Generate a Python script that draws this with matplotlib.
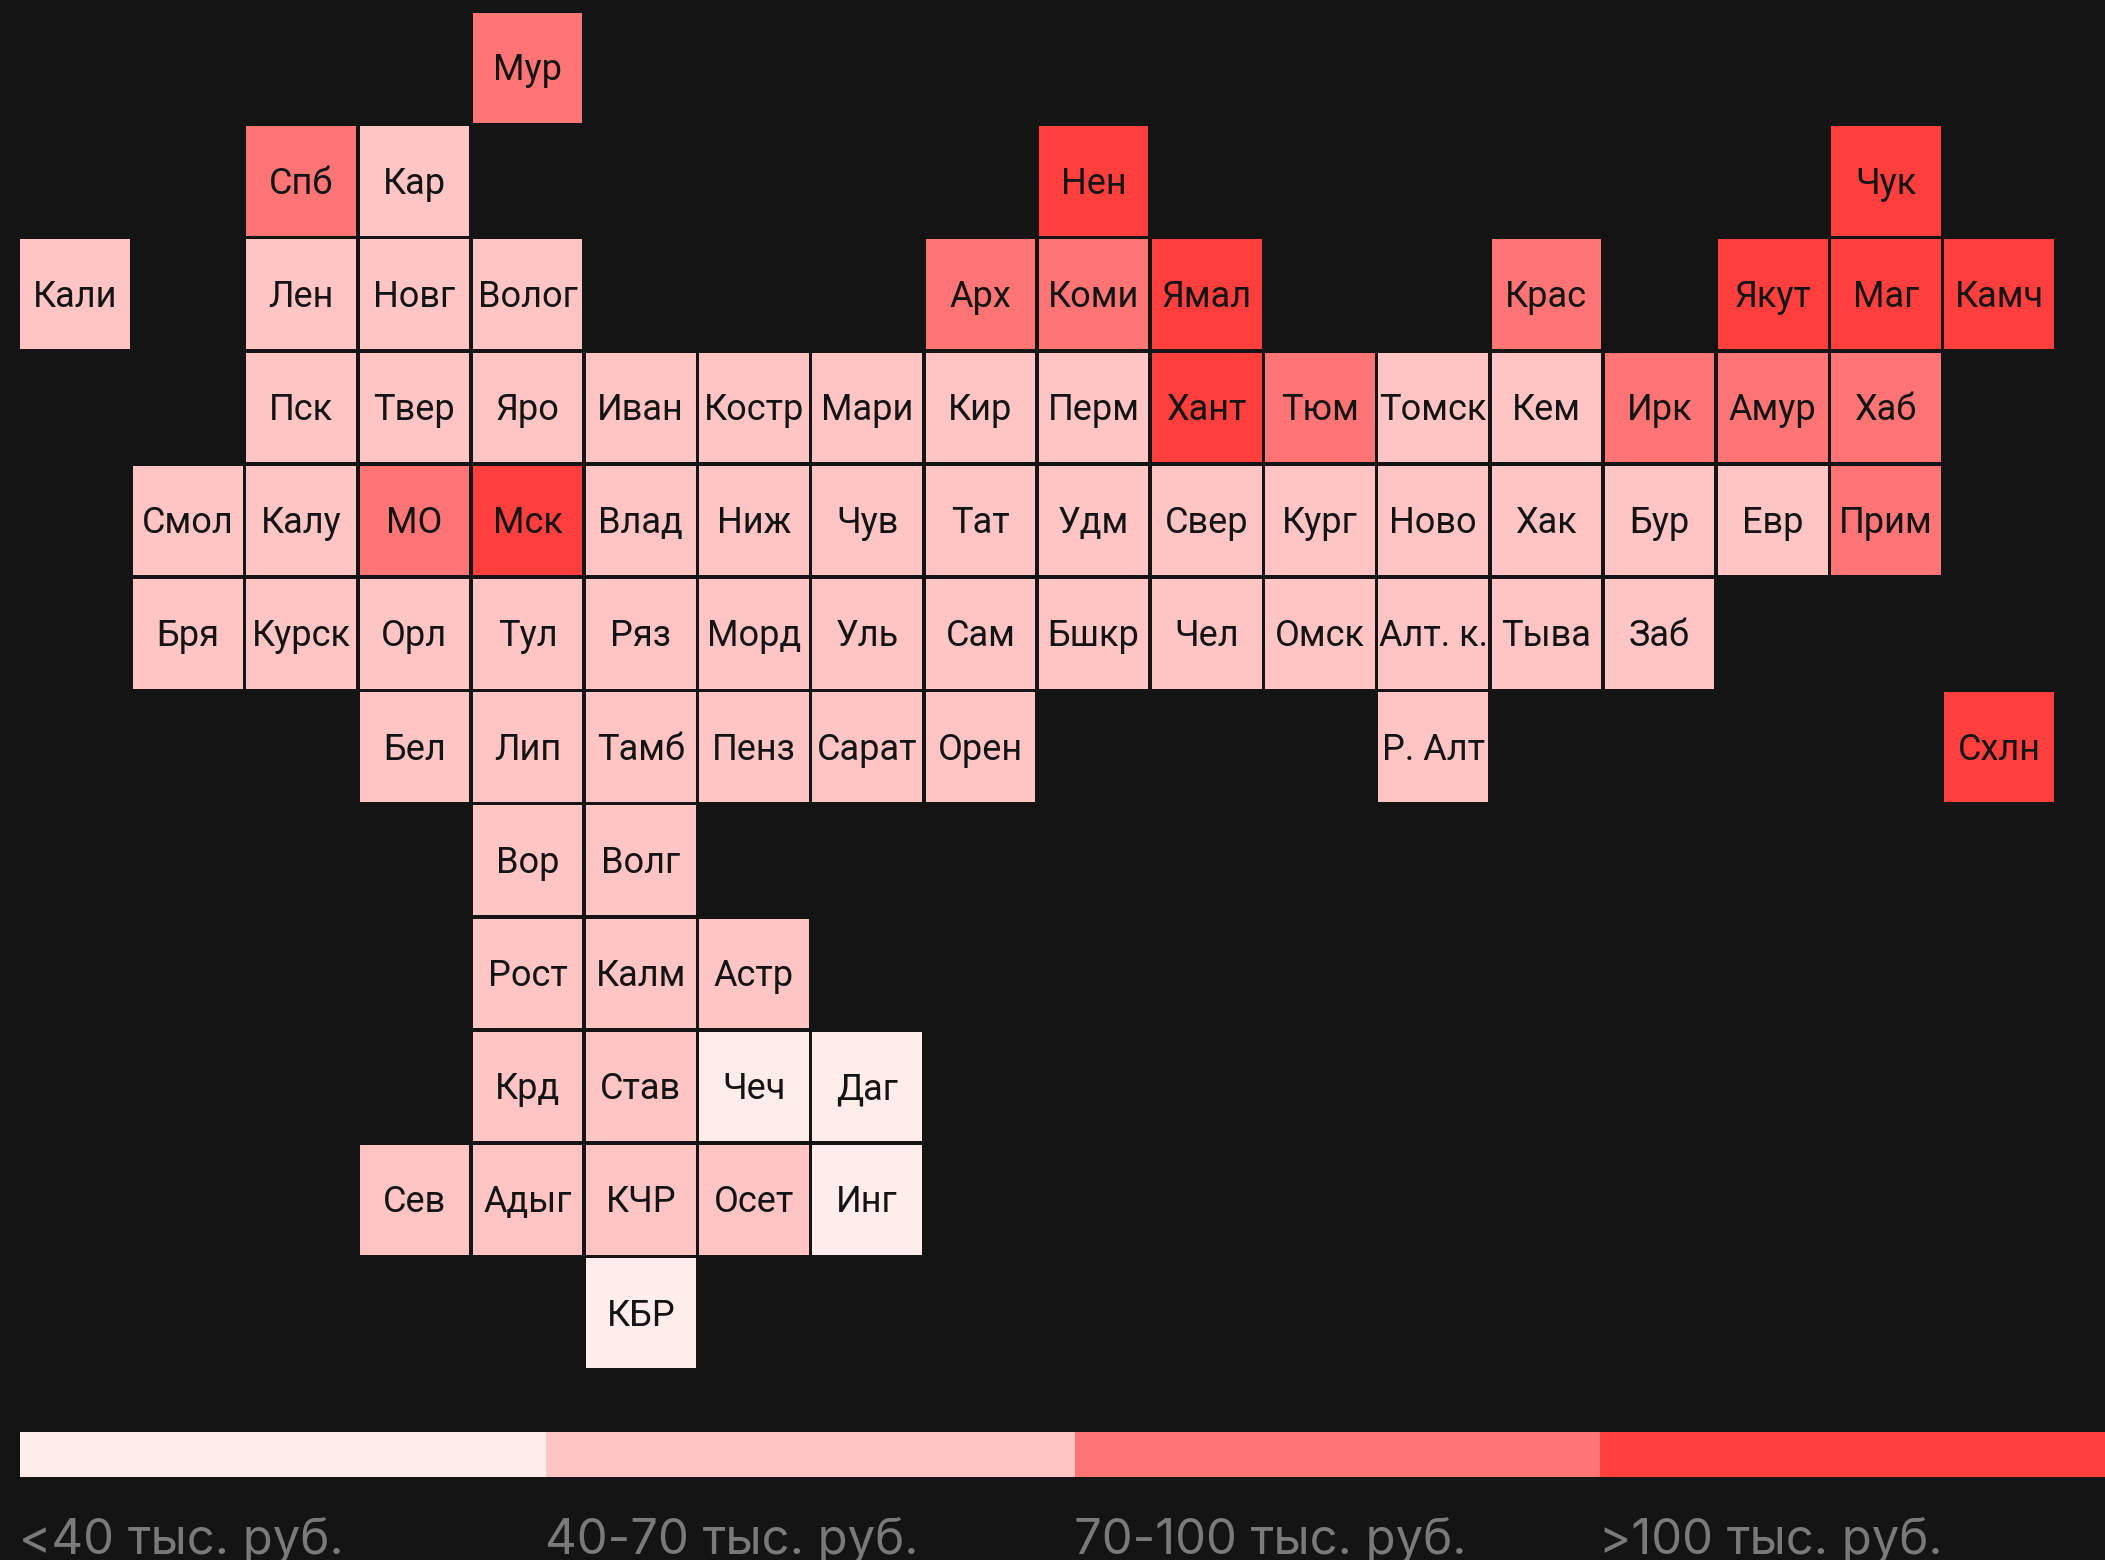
import matplotlib
matplotlib.use("Agg")
import matplotlib.pyplot as plt

# tile map rows: names and their grid columns
row_names = [
    ["Мур"],
    ["Спб", "Кар", "Нен", "Чук"],
    ["Кали", "Лен", "Новг", "Волог", "Арх", "Коми", "Ямал", "Крас", "Якут", "Маг", "Камч"],
    ["Пск", "Твер", "Яро", "Иван", "Костр", "Мари", "Кир", "Перм", "Хант", "Тюм", "Томск", "Кем", "Ирк", "Амур", "Хаб"],
    ["Смол", "Калу", "МО", "Мск", "Влад", "Ниж", "Чув", "Тат", "Удм", "Свер", "Кург", "Ново", "Хак", "Бур", "Евр", "Прим"],
    ["Бря", "Курск", "Орл", "Тул", "Ряз", "Морд", "Уль", "Сам", "Бшкр", "Чел", "Омск", "Алт. к.", "Тыва", "Заб"],
    ["Бел", "Лип", "Тамб", "Пенз", "Сарат", "Орен", "Р. Алт", "Схлн"],
    ["Вор", "Волг"],
    ["Рост", "Калм", "Астр"],
    ["Крд", "Став", "Чеч", "Даг"],
    ["Сев", "Адыг", "КЧР", "Осет", "Инг"],
    ["КБР"],
]
row_cols = [
    [4],
    [2, 3, 9, 16],
    [0, 2, 3, 4, 8, 9, 10, 13, 15, 16, 17],
    [2, 3, 4, 5, 6, 7, 8, 9, 10, 11, 12, 13, 14, 15, 16],
    [1, 2, 3, 4, 5, 6, 7, 8, 9, 10, 11, 12, 13, 14, 15, 16],
    [1, 2, 3, 4, 5, 6, 7, 8, 9, 10, 11, 12, 13, 14],
    [3, 4, 5, 6, 7, 8, 12, 17],
    [4, 5],
    [4, 5, 6],
    [4, 5, 6, 7],
    [3, 4, 5, 6, 7],
    [5],
]

# everything not listed here is in the 40-70 group
under_40 = ["Чеч", "Даг", "Инг", "КБР"]
from_70_to_100 = ["Мур", "Спб", "Арх", "Коми", "Крас", "Тюм", "Ирк", "Амур", "Хаб", "МО", "Прим"]
over_100 = ["Нен", "Чук", "Ямал", "Якут", "Маг", "Камч", "Хант", "Мск", "Схлн"]

legend_labels = ["<40 тыс. руб.", "40-70 тыс. руб.", "70-100 тыс. руб.", ">100 тыс. руб."]
colors = ["#FFEDEB", "#FFC4C4", "#FF7575", "#FF3E3E"]
bg = "#141414"

W, H = 2105, 1560
PITCH = 113.2
CELL = 109.5 / PITCH
X0, Y0 = 20, 13

plt.rcParams["font.family"] = ["Roboto", "DejaVu Sans"]

fig = plt.figure(figsize=(W / 100, H / 100), dpi=100, facecolor=bg)

# map axes covers the whole figure, one data unit is one grid step
ax = fig.add_axes([0, 0, 1, 1])
ax.set_facecolor(bg)
ax.set_xlim(-X0 / PITCH, (W - X0) / PITCH)
ax.set_ylim((H - Y0) / PITCH, -Y0 / PITCH)
ax.axis("off")

for r, (names, cols) in enumerate(zip(row_names, row_cols)):
    for name, c in zip(names, cols):
        if name in under_40:
            level = 0
        elif name in from_70_to_100:
            level = 2
        elif name in over_100:
            level = 3
        else:
            level = 1
        ax.bar(c, CELL, bottom=r, width=CELL, align="edge", color=colors[level], linewidth=0)
        ax.text(c + CELL / 2, r + CELL / 2 - 0.012, name, ha="center", va="center_baseline",
                fontsize=26, color=bg)

# legend strip in figure pixels
seg_left = [20, 546, 1075, 1600]
seg_right = [546, 1075, 1600, 2105]
lax = fig.add_axes([0, 1 - 1477 / H, 1, 45 / H])
lax.set_xlim(0, W)
lax.set_ylim(0, 1)
lax.axis("off")
for i, col in enumerate(colors):
    lax.barh(0.5, seg_right[i] - seg_left[i], left=seg_left[i], height=1, color=col, linewidth=0)
    lax.text(seg_left[i] - 1, -1.72, legend_labels[i], ha="left", va="baseline", fontsize=35.3,
             family=["Inter", "DejaVu Sans"], color="#7A7A7A", clip_on=False)

fig.savefig("out.png", dpi=100, facecolor=bg)
